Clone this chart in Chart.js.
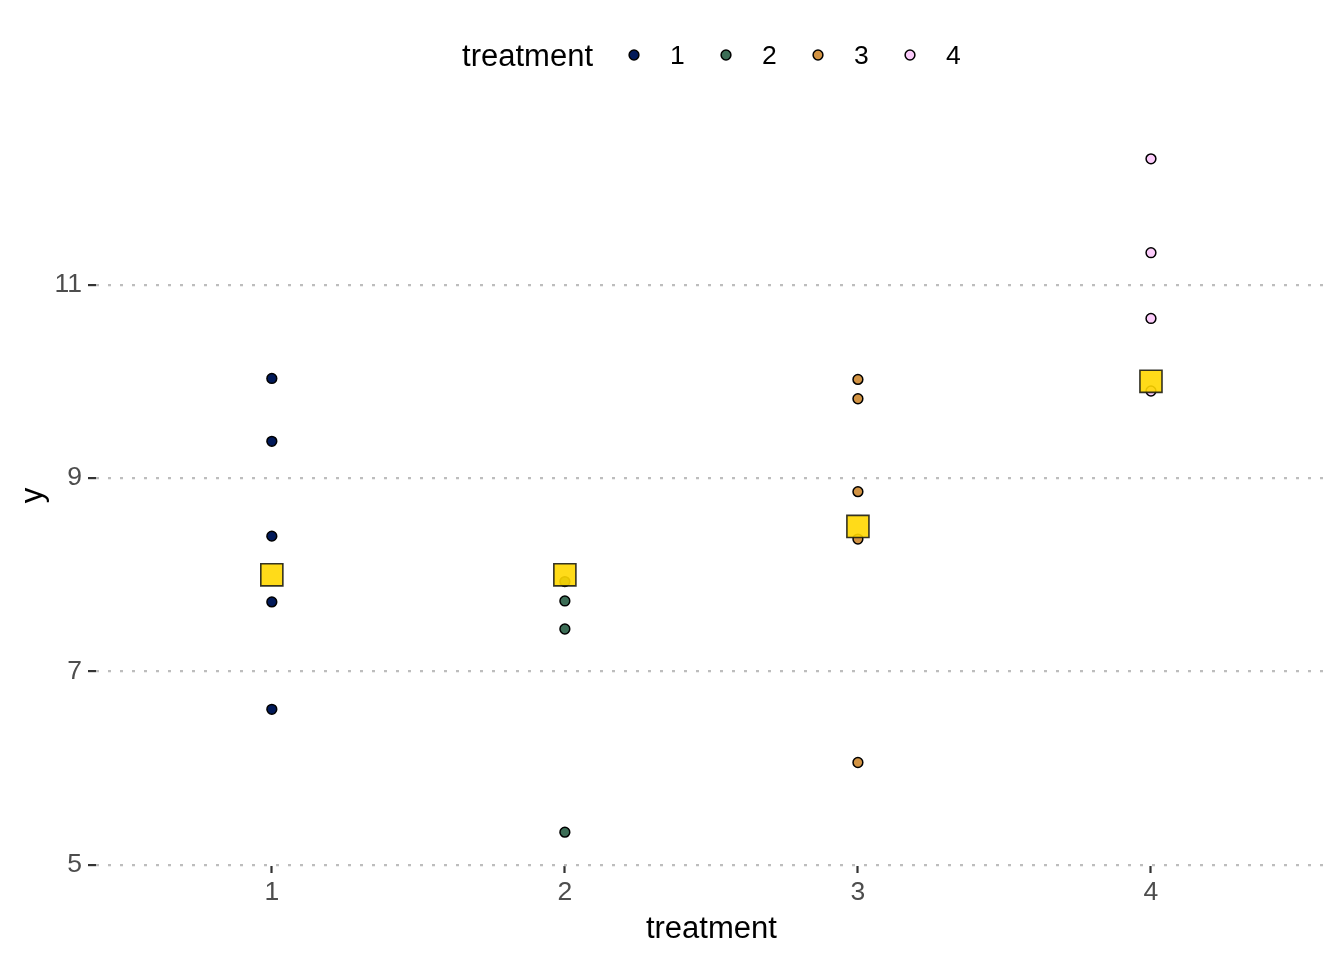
<!DOCTYPE html>
<html><head><meta charset="utf-8">
<script src="https://cdn.jsdelivr.net/npm/chart.js@4.4.1/dist/chart.umd.min.js"></script>
<style>html,body{margin:0;padding:0;background:#fff}#wrap{width:1344px;height:960px}</style>
</head><body><div id="wrap"><canvas id="c"></canvas></div>
<script>
// ---- data ----
const treatments = [1, 2, 3, 4];
const groupLabels = ['1', '2', '3', '4'];
const y1 = [10.03, 9.38, 8.40, 7.72, 6.61];
const y2 = [7.93, 7.73, 7.44, 5.34];
const y3 = [10.02, 9.82, 8.86, 8.37, 6.06];
const y4 = [12.30, 11.33, 10.65, 9.90];
const treatmentMeans = [8.0, 8.0, 8.5, 10.0];
const yTicks = [5, 7, 9, 11];
const groupValues = [y1, y2, y3, y4];

// ---- styles ----
const colors = ['#011959', '#3C6D56', '#D29343', '#FCCCFB'];
const FONT = '"Liberation Sans", Arial, Helvetica, sans-serif';
Chart.defaults.font.family = FONT;
const TITLE_SIZE = 31, TEXT_SIZE = 26.5;

const datasets = [{
  label: 'mean',
  data: treatments.map((t, i) => ({x: t, y: treatmentMeans[i]})),
  pointStyle: 'rect',
  pointRadius: 15.6,
  pointHoverRadius: 15.6,
  backgroundColor: 'rgba(255,215,0,0.9)',
  borderColor: 'rgba(30,30,20,0.9)',
  borderWidth: 1.6,
  order: 0,
  showLine: false
}];
groupValues.forEach((vals, g) => {
  datasets.push({
    label: groupLabels[g],
    data: vals.map(v => ({x: treatments[g], y: v})),
    pointStyle: 'circle',
    pointRadius: 4.9,
    pointHoverRadius: 4.9,
    backgroundColor: colors[g],
    borderColor: '#000',
    borderWidth: 1.5,
    order: 1,
    showLine: false
  });
});

const legendPlugin = {
  id: 'ggLegend',
  afterDraw(chart) {
    const ctx = chart.ctx, a = chart.chartArea;
    ctx.save();
    const titleFont = TITLE_SIZE + 'px ' + FONT, labFont = TEXT_SIZE + 'px ' + FONT;
    ctx.font = titleFont;
    const titleW = ctx.measureText('treatment').width;
    ctx.font = labFont;
    const lastW = ctx.measureText(groupLabels[groupLabels.length - 1]).width;
    const n = groupLabels.length;
    const total = titleW + 41 + 92 * (n - 1) + 36 + lastW;
    let x = (a.left + a.right) / 2 - total / 2;
    const y = 57;
    ctx.textBaseline = 'middle';
    ctx.textAlign = 'left';
    ctx.fillStyle = '#000';
    ctx.font = titleFont;
    ctx.fillText('treatment', x, y);
    let dx = x + titleW + 41;
    for (let i = 0; i < n; i++) {
      ctx.beginPath();
      ctx.arc(dx, y - 2, 4.9, 0, Math.PI * 2);
      ctx.fillStyle = colors[i];
      ctx.fill();
      ctx.lineWidth = 1.5;
      ctx.strokeStyle = '#000';
      ctx.stroke();
      ctx.fillStyle = '#000';
      ctx.font = labFont;
      ctx.fillText(groupLabels[i], dx + 36, y);
      dx += 92;
    }
    ctx.restore();
  }
};

new Chart(document.getElementById('c'), {
  type: 'scatter',
  data: {datasets},
  plugins: [legendPlugin],
  options: {
    responsive: true,
    maintainAspectRatio: false,
    animation: false,
    devicePixelRatio: 1,
    layout: {padding: {top: 125, right: 15, left: 0, bottom: 0}},
    plugins: {legend: {display: false}, tooltip: {enabled: false}},
    scales: {
      x: {
        type: 'linear',
        min: 0.4, max: 4.6,
        afterBuildTicks: s => { s.ticks = treatments.map(v => ({value: v})); },
        afterFit: s => { s.height = 94; },
        grid: {drawOnChartArea: false, drawTicks: true, tickLength: 7, tickColor: '#333', tickWidth: 2.2},
        border: {display: false},
        ticks: {color: '#4D4D4D', font: {size: TEXT_SIZE}, padding: 4, callback: v => String(v)},
        title: {display: true, text: 'treatment', color: '#000', font: {size: TITLE_SIZE}, padding: {top: 4, bottom: 11.5}}
      },
      y: {
        min: 4.99, max: 12.65,
        afterBuildTicks: s => { s.ticks = yTicks.map(v => ({value: v})); },
        afterFit: s => { s.width = 96; },
        grid: {color: '#BDBDBD', lineWidth: 2.2, tickLength: 8, tickColor: '#333', tickWidth: 2.2},
        border: {display: false, dash: [3, 9]},
        ticks: {color: '#4D4D4D', font: {size: TEXT_SIZE}, padding: 6, callback: v => String(v)},
        title: {display: true, text: 'y', color: '#000', font: {size: TITLE_SIZE}, padding: {top: 15, bottom: 4}}
      }
    }
  }
});
</script></body></html>
